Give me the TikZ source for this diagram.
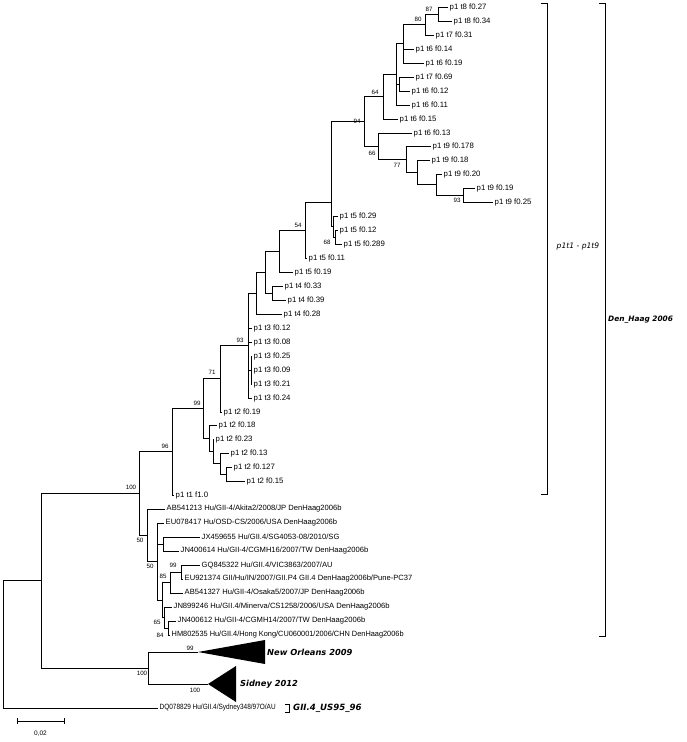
\documentclass[tikz,border=0pt]{standalone}
\usepackage{fontspec}
\setmainfont{Liberation Sans}
\newfontfamily\vb{DejaVu Sans}
\begin{document}
\begin{tikzpicture}[x=1pt,y=-1pt,
 br/.style={line width=0.85pt},
 leaf/.style={anchor=west,inner xsep=1.5pt,inner ysep=0pt,font=\fontsize{7.8}{8}\selectfont},
 bs/.style={inner sep=0pt,font=\fontsize{6.2}{6.5}\selectfont},
 clade/.style={anchor=west,inner sep=0pt,font=\vb\bfseries\itshape\fontsize{8.3}{9}\selectfont}]
\useasboundingbox (0,0) rectangle (686,742);
% ---------- leaves ----------
\node[leaf] (L0) at (448,7) {p1 t8 f0.27};
\node[leaf] (L1) at (452,21) {p1 t8 f0.34};
\node[leaf] (L2) at (434,35) {p1 t7 f0.31};
\node[leaf] (L3) at (414,49) {p1 t6 f0.14};
\node[leaf] (L4) at (424,63) {p1 t6 f0.19};
\node[leaf] (L5) at (414,77) {p1 t7 f0.69};
\node[leaf] (L6) at (410,91) {p1 t6 f0.12};
\node[leaf] (L7) at (410,105) {p1 t6 f0.11};
\node[leaf] (L8) at (398,119) {p1 t6 f0.15};
\node[leaf] (L9) at (412,133) {p1 t6 f0.13};
\node[leaf] (L10) at (431,146.5) {p1 t9 f0.178};
\node[leaf] (L11) at (430,160.5) {p1 t9 f0.18};
\node[leaf] (L12) at (442,174.4) {p1 t9 f0.20};
\node[leaf] (L13) at (475,188.4) {p1 t9 f0.19};
\node[leaf] (L14) at (493,202.3) {p1 t9 f0.25};
\node[leaf] (L15) at (338,216) {p1 t5 f0.29};
\node[leaf] (L16) at (338,230) {p1 t5 f0.12};
\node[leaf] (L17) at (342,244) {p1 t5 f0.289};
\node[leaf] (L18) at (307,258) {p1 t5 f0.11};
\node[leaf] (L19) at (293,272) {p1 t5 f0.19};
\node[leaf] (L20) at (283,286) {p1 t4 f0.33};
\node[leaf] (L21) at (286,300) {p1 t4 f0.39};
\node[leaf] (L22) at (282,314) {p1 t4 f0.28};
\node[leaf] (L23) at (252,328) {p1 t3 f0.12};
\node[leaf] (L24) at (252,342) {p1 t3 f0.08};
\node[leaf] (L25) at (252,356) {p1 t3 f0.25};
\node[leaf] (L26) at (252,370) {p1 t3 f0.09};
\node[leaf] (L27) at (252,384) {p1 t3 f0.21};
\node[leaf] (L28) at (252,398) {p1 t3 f0.24};
\node[leaf] (L29) at (222,412) {p1 t2 f0.19};
\node[leaf] (L30) at (217,425) {p1 t2 f0.18};
\node[leaf] (L31) at (214,439) {p1 t2 f0.23};
\node[leaf] (L32) at (229,453) {p1 t2 f0.13};
\node[leaf] (L33) at (232,467) {p1 t2 f0.127};
\node[leaf] (L34) at (245,481) {p1 t2 f0.15};
\node[leaf] (L35) at (174,495) {p1 t1 f1.0};
\node[leaf,font=\fontsize{7.6}{8}\selectfont] (L36) at (165,509) {AB541213 Hu/GII-4/Akita2/2008/JP DenHaag2006b};
\node[leaf,font=\fontsize{7.6}{8}\selectfont] (L37) at (164,523) {EU078417 Hu/OSD-CS/2006/USA DenHaag2006b};
\node[leaf,font=\fontsize{7.6}{8}\selectfont] (L38) at (200,537) {JX459655 Hu/GII.4/SG4053-08/2010/SG};
\node[leaf,font=\fontsize{7.6}{8}\selectfont] (L39) at (179,551) {JN400614 Hu/GII-4/CGMH16/2007/TW DenHaag2006b};
\node[leaf,font=\fontsize{7.6}{8}\selectfont] (L40) at (200,565) {GQ845322 Hu/GII.4/VIC3863/2007/AU};
\node[leaf,font=\fontsize{7.6}{8}\selectfont] (L41) at (183,579) {EU921374 GII/Hu/IN/2007/GII.P4 GII.4 DenHaag2006b/Pune-PC37};
\node[leaf,font=\fontsize{7.6}{8}\selectfont] (L42) at (183,593) {AB541327 Hu/GII-4/Osaka5/2007/JP DenHaag2006b};
\node[leaf,font=\fontsize{7.6}{8}\selectfont] (L43) at (172,607) {JN899246 Hu/GII.4/Minerva/CS1258/2006/USA DenHaag2006b};
\node[leaf,font=\fontsize{7.6}{8}\selectfont] (L44) at (176,621) {JN400612 Hu/GII-4/CGMH14/2007/TW DenHaag2006b};
\node[leaf,font=\fontsize{7.6}{8}\selectfont] (L45) at (170,635) {\scalebox{0.97}[1]{HM802535 Hu/GII.4/Hong Kong/CU060001/2006/CHN DenHaag2006b}};
\node[leaf,font=\fontsize{7.6}{8}\selectfont] (DQ) at (158,708) {\scalebox{0.85}[1]{DQ078829 Hu/GII.4/Sydney348/97O/AU}};
% ---------- internal nodes ----------
\coordinate (n87) at (438,14);
\coordinate (n80) at (425,24.5);
\coordinate (nA) at (403,43.75);
\coordinate (nC) at (399,84);
\coordinate (nB) at (396,74.4);
\coordinate (n64) at (383,96.7);
\coordinate (n93t) at (463,195.3);
\coordinate (nD) at (436,184.9);
\coordinate (nE) at (417,172.7);
\coordinate (n77) at (406,159.6);
\coordinate (n66) at (378,146.3);
\coordinate (n94) at (364,121.5);
\coordinate (n68) at (335,237);
\coordinate (nF) at (333,226.5);
\coordinate (nX) at (331,202);
\coordinate (n54) at (305,230);
\coordinate (nP) at (279,251);
\coordinate (nT4) at (272,293);
\coordinate (nQ) at (265,272);
\coordinate (nR) at (256,293);
\coordinate (nS3) at (251,370);
\coordinate (n93) at (248,345.5);
\coordinate (n71) at (220,378.75);
\coordinate (nt2c) at (226,474);
\coordinate (nt2b) at (220,463.5);
\coordinate (nt2a) at (213,451);
\coordinate (nT) at (209,438);
\coordinate (n99) at (203,408.4);
\coordinate (n96) at (172,451.7);
\coordinate (nJ) at (163,544);
\coordinate (n99b) at (181,572);
\coordinate (n85) at (170,582.5);
\coordinate (n84) at (168,628);
\coordinate (n65) at (164,617.5);
\coordinate (nU) at (162,600);
\coordinate (n50b) at (157,561.5);
\coordinate (n50a) at (147,535);
\coordinate (n100) at (139,493.4);
\coordinate (NO) at (198,652);
\coordinate (SY) at (208,684);
\coordinate (nNS) at (148,668);
\coordinate (nTop) at (41,580.7);
\coordinate (root) at (3,644);
% ---------- branches ----------
\draw[br] (n87) |- (L0.west);
\draw[br] (n87) |- (L1.west);
\draw[br] (n80) |- (n87);
\draw[br] (n80) |- (L2.west);
\draw[br] (nA) |- (n80);
\draw[br] (nA) |- (L3.west);
\draw[br] (nA) |- (L4.west);
\draw[br] (nC) |- (L5.west);
\draw[br] (nC) |- (L6.west);
\draw[br] (nB) |- (nA);
\draw[br] (nB) |- (nC);
\draw[br] (nB) |- (L7.west);
\draw[br] (n64) |- (nB);
\draw[br] (n64) |- (L8.west);
\draw[br] (n93t) |- (L13.west);
\draw[br] (n93t) |- (L14.west);
\draw[br] (nD) |- (L12.west);
\draw[br] (nD) |- (n93t);
\draw[br] (nE) |- (L11.west);
\draw[br] (nE) |- (nD);
\draw[br] (n77) |- (L10.west);
\draw[br] (n77) |- (nE);
\draw[br] (n66) |- (L9.west);
\draw[br] (n66) |- (n77);
\draw[br] (n94) |- (n64);
\draw[br] (n94) |- (n66);
\draw[br] (n68) |- (L16.west);
\draw[br] (n68) |- (L17.west);
\draw[br] (nF) |- (L15.west);
\draw[br] (nF) |- (n68);
\draw[br] (nX) |- (n94);
\draw[br] (nX) |- (nF);
\draw[br] (n54) |- (nX);
\draw[br] (n54) |- (L18.west);
\draw[br] (nP) |- (n54);
\draw[br] (nP) |- (L19.west);
\draw[br] (nT4) |- (L20.west);
\draw[br] (nT4) |- (L21.west);
\draw[br] (nQ) |- (nP);
\draw[br] (nQ) |- (nT4);
\draw[br] (nR) |- (nQ);
\draw[br] (nR) |- (L22.west);
\draw[br] (nS3) |- (L25.west);
\draw[br] (nS3) |- (L26.west);
\draw[br] (nS3) |- (L27.west);
\draw[br] (n93) |- (nR);
\draw[br] (n93) |- (L23.west);
\draw[br] (n93) |- (L24.west);
\draw[br] (n93) |- (nS3);
\draw[br] (n93) |- (L28.west);
\draw[br] (n71) |- (n93);
\draw[br] (n71) |- (L29.west);
\draw[br] (nt2c) |- (L33.west);
\draw[br] (nt2c) |- (L34.west);
\draw[br] (nt2b) |- (L32.west);
\draw[br] (nt2b) |- (nt2c);
\draw[br] (nt2a) |- (L31.west);
\draw[br] (nt2a) |- (nt2b);
\draw[br] (nT) |- (L30.west);
\draw[br] (nT) |- (nt2a);
\draw[br] (n99) |- (n71);
\draw[br] (n99) |- (nT);
\draw[br] (n96) |- (n99);
\draw[br] (n96) |- (L35.west);
\draw[br] (nJ) |- (L38.west);
\draw[br] (nJ) |- (L39.west);
\draw[br] (n99b) |- (L40.west);
\draw[br] (n99b) |- (L41.west);
\draw[br] (n85) |- (n99b);
\draw[br] (n85) |- (L42.west);
\draw[br] (n84) |- (L44.west);
\draw[br] (n84) |- (L45.west);
\draw[br] (n65) |- (L43.west);
\draw[br] (n65) |- (n84);
\draw[br] (nU) |- (n85);
\draw[br] (nU) |- (n65);
\draw[br] (n50b) |- (L37.west);
\draw[br] (n50b) |- (nJ);
\draw[br] (n50b) |- (nU);
\draw[br] (n50a) |- (L36.west);
\draw[br] (n50a) |- (n50b);
\draw[br] (n100) |- (n96);
\draw[br] (n100) |- (n50a);
\draw[br] (nNS) |- (NO);
\draw[br] (nNS) |- (SY);
\draw[br] (nTop) |- (n100);
\draw[br] (nTop) |- (nNS);
\draw[br] (root) |- (nTop);
\draw[br] (root) |- (DQ.west);
% ---------- collapsed clades ----------
\fill (NO) -- (265,640) -- (265,664) -- cycle;
\node[clade] (NOl) at (267,652) {New Orleans 2009};
\fill (SY) -- (236,666) -- (236,702) -- cycle;
\node[clade] (SYl) at (240,684) {Sidney 2012};
% ---------- bootstrap values ----------
\node[bs] (b87) at (429,9) {87};
\node[bs] (b80) at (418,19) {80};
\node[bs] (b64) at (375,92) {64};
\node[bs] (b94) at (357,121) {94};
\node[bs] (b66) at (372,153) {66};
\node[bs] (b77) at (397,165) {77};
\node[bs] (b93t) at (457,200) {93};
\node[bs] (b54) at (298,225) {54};
\node[bs] (b68) at (327,242) {68};
\node[bs] (b93) at (240,340) {93};
\node[bs] (b71) at (212,372) {71};
\node[bs] (b99) at (197,403) {99};
\node[bs] (b96) at (165,446) {96};
\node[bs] (b100) at (131,487) {100};
\node[bs] (b50a) at (140,540) {50};
\node[bs] (b50b) at (150,566) {50};
\node[bs] (b99b) at (173,565) {99};
\node[bs] (b85) at (163,576) {85};
\node[bs] (b65) at (157,622) {65};
\node[bs] (b84) at (160,635) {84};
\node[bs] (b99NO) at (190,648) {99};
\node[bs] (b100NS) at (142,673) {100};
\node[bs] (b100SY) at (195,690) {100};
% ---------- clade brackets ----------
\draw[br] (541,3) -- (547,3) -- (547,494) -- (541,494);
\node[inner sep=0pt,font=\vb\itshape\fontsize{7.6}{8}\selectfont] (inl) at (578,246) {p1t1 - p1t9};
\draw[br] (599,3) -- (605,3) -- (605,636) -- (599,636);
\node[inner sep=0pt,anchor=west,font=\vb\bfseries\itshape\fontsize{7.4}{8}\selectfont] (outl) at (608,320) {Den\_Haag 2006};
\draw[br] (285,704) -- (289,704) -- (289,712) -- (285,712);
\node[clade,font=\vb\bfseries\itshape\fontsize{8.6}{9}\selectfont] (GIIl) at (293,708) {GII.4\_US95\_96};
% ---------- scale bar ----------
\coordinate (s1) at (17,721);
\coordinate (s2) at (64,721);
\draw[br] (s1) -- (s2);
\draw[br] ([yshift=-3pt]s1) -- ([yshift=3pt]s1);
\draw[br] ([yshift=-3pt]s2) -- ([yshift=3pt]s2);
\node[inner sep=0pt,font=\fontsize{6.5}{7}\selectfont] (sl) at (40.5,734) {0,02};
\end{tikzpicture}
\end{document}
